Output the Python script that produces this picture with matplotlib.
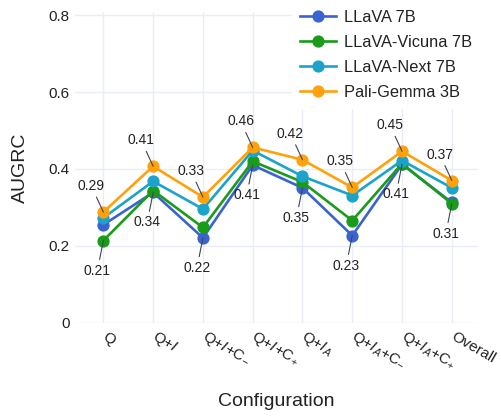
import matplotlib
matplotlib.use("Agg")
import matplotlib.pyplot as plt
import numpy as np

plt.rcParams['font.family'] = ['Liberation Sans', 'DejaVu Sans']
plt.rcParams['mathtext.fontset'] = 'custom'
plt.rcParams['mathtext.rm'] = 'Liberation Sans'
plt.rcParams['mathtext.it'] = 'Liberation Sans:italic'

# configurations on the x axis
configs = ['Q', r'Q+$I$', r'Q+$I$+$\mathrm{C}_{-}$', r'Q+$I$+$\mathrm{C}_{+}$',
           r'Q+$I_A$', r'Q+$I_A$+$\mathrm{C}_{-}$', r'Q+$I_A$+$\mathrm{C}_{+}$', 'Overall']

# AUGRC per model
llava_7b = [0.255, 0.339, 0.221, 0.410, 0.351, 0.227, 0.412, 0.313]
llava_vicuna_7b = [0.214, 0.344, 0.248, 0.420, 0.366, 0.266, 0.414, 0.310]
llava_next_7b = [0.273, 0.368, 0.296, 0.448, 0.381, 0.331, 0.422, 0.351]
pali_gemma_3b = [0.288, 0.407, 0.327, 0.456, 0.424, 0.352, 0.446, 0.370]

models = ['LLaVA 7B', 'LLaVA-Vicuna 7B', 'LLaVA-Next 7B', 'Pali-Gemma 3B']
colors = ['#3b63d0', '#1a9b1a', '#1ba3c9', '#ffa10c']
series = [llava_7b, llava_vicuna_7b, llava_next_7b, pali_gemma_3b]

fig = plt.figure(figsize=(5.01, 4.16), dpi=100)
ax = fig.add_axes([75/501, 92.7/416, 402.7/501, 311.3/416])

x = np.arange(len(configs))
for name, col, vals in zip(models, colors, series):
    ax.plot(x, vals, '-o', color=col, lw=1.9, ms=7.8, label=name)

# label the best and worst value of every configuration
allv = np.array(series)
for i in x:
    top = allv[:, i].max()
    bot = allv[:, i].min()
    ax.annotate(f'{top:.2f}', xy=(i, top), xytext=(-12, 26), textcoords='offset pixels',
                ha='center', va='center', fontsize=10, color='#222',
                arrowprops=dict(arrowstyle='-', color='#3a4656', lw=0.8, shrinkA=1, shrinkB=0))
    ax.annotate(f'{bot:.2f}', xy=(i, bot), xytext=(-6, -30), textcoords='offset pixels',
                ha='center', va='center', fontsize=10, color='#222',
                arrowprops=dict(arrowstyle='-', color='#3a4656', lw=0.8, shrinkA=1, shrinkB=0))

ax.set_xlim(-0.57, 7.52)
ax.set_ylim(-0.001, 0.808)
ax.set_yticks([0, 0.2, 0.4, 0.6, 0.8])
ax.set_yticklabels(['0', '0.2', '0.4', '0.6', '0.8'])
ax.set_xticks(x)
ax.set_xticklabels(configs, rotation=-30, ha='left', rotation_mode='anchor', va='center')
ax.tick_params(length=0, labelsize=11, colors='#222', pad=4)
ax.tick_params(axis='x', pad=9)
ax.grid(True, color='#e8edf6', lw=1)
ax.set_axisbelow(True)
for s in ax.spines.values():
    s.set_visible(False)

ax.set_xlabel('Configuration', fontsize=14, color='#222', labelpad=14)
ax.set_ylabel('AUGRC', fontsize=14, color='#222', labelpad=14)

leg = ax.legend(loc='upper left', bbox_to_anchor=(292/501, 1.0 - 2/416), bbox_transform=fig.transFigure,
                fontsize=11.8, frameon=True, fancybox=False, edgecolor='white', framealpha=1,
                borderaxespad=0, borderpad=0.5, handlelength=2.2, handletextpad=0.45,
                labelspacing=0.6)
for t in leg.get_texts():
    t.set_color('#222')

fig.savefig('out.png', dpi=100)
